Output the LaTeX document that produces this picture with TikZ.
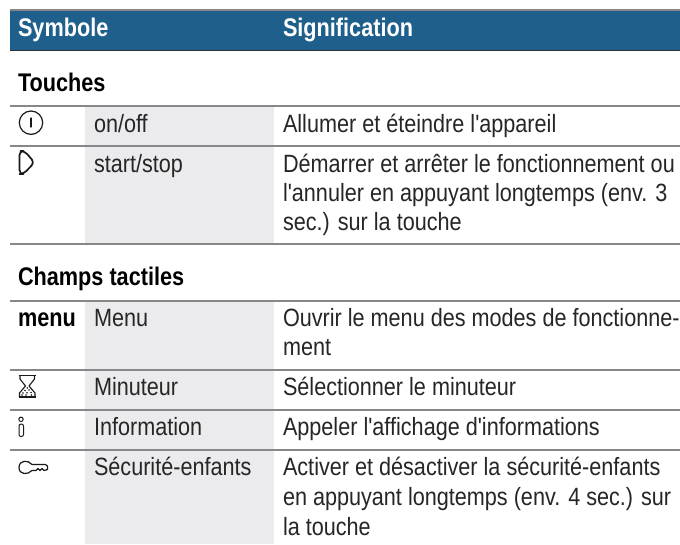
\documentclass[tikz,border=0pt]{standalone}
\usepackage{fontspec}
\setmainfont{Liberation Sans}
\newfontfamily\narrowf[FakeStretch=0.865]{Liberation Sans}
\newfontfamily\narrowb[FakeStretch=0.85,BoldFont={Liberation Sans Bold}]{Liberation Sans}
\definecolor{hblue}{RGB}{31,95,140}
\definecolor{rule}{RGB}{135,135,138}
\definecolor{cellg}{RGB}{235,235,237}
\tikzset{x=1pt,y=-1pt,
 txt/.style={anchor=base west,inner sep=0pt,outer sep=0pt,font=\narrowf\fontsize{25}{28}\selectfont,text=black!85},
 bold/.style={anchor=base west,inner sep=0pt,outer sep=0pt,font=\narrowb\bfseries\fontsize{25.5}{28}\selectfont,text=black},
 hd/.style={bold,text=white},
 sep/.style={draw=rule,line width=2pt},
 sym/.style={draw=black!90,line width=1.2pt,line join=round,line cap=round}}
\begin{document}
\begin{tikzpicture}
\useasboundingbox (0,0) rectangle (680,544);
\fill[white] (0,0) rectangle (680,544);
% header
\fill[hblue] (10,10) rectangle (680,50);
\draw[rule,line width=1.2pt] (10,10) -- (680,10);
\draw[black!80,line width=0.8pt] (10,50) -- (680,50);
\node[hd] (h1) at (18,36) {Symbole};
\node[hd] (h2) at (283,36) {Signification};
% gray columns
\fill[cellg] (85,106) rectangle (274,244);
\fill[cellg] (85,300) rectangle (274,544);
% section titles
\node[bold] (s1) at (18,91.5) {Touches};
\node[bold] (s2) at (18,285) {Champs tactiles};
% rules
\foreach \yy in {105.8,145.7,244.3,300.5,370.3,409.8,449.8}
  \draw[sep] (10,\yy) -- (680,\yy);
% rows
\node[txt] (a1) at (94,132) {on/off};
\node[txt] (b1) at (283,132) {Allumer et éteindre l'appareil};
\node[txt] (a2) at (94,172) {start/stop};
\node[txt] (b2) at (283,172) {Démarrer et arrêter le fonctionnement ou};
\node[txt] (b2b) at (283,201) {l'annuler en appuyant longtemps (env. 3};
\node[txt] (b2c) at (283,230.5) {sec.) sur la touche};
\node[bold] (c0) at (18,326) {menu};
\node[txt] (c1) at (94,326) {Menu};
\node[txt] (d1) at (283,326) {Ouvrir le menu des modes de fonctionne-};
\node[txt] (d1b) at (283,355.5) {ment};
\node[txt] (c2) at (94,395.5) {Minuteur};
\node[txt] (d2) at (283,395.5) {Sélectionner le minuteur};
\node[txt] (c3) at (94,435.5) {Information};
\node[txt] (d3) at (283,435.5) {Appeler l'affichage d'informations};
\node[txt] (c4) at (94,475) {Sécurité-enfants};
\node[txt] (d4) at (283,475) {Activer et désactiver la sécurité-enfants};
\node[txt] (d4b) at (283,505) {en appuyant longtemps (env. 4 sec.) sur};
\node[txt] (d4c) at (283,535) {la touche};
% symbols
\draw[sym] (31,122.7) circle (11.7);
\draw[sym] (31,118) -- (31,127);
\draw[sym,line width=1.7pt,rounded corners=4pt] (19.5,151) -- (19.5,174) -- (23.5,174) -- (34.5,162.5) -- (24.5,151) -- cycle;
% hourglass
\draw[sym,line width=1.7pt,line cap=butt] (18.5,375.5) -- (36,375.5) (18.5,396.7) -- (36,396.7);
\draw[sym,line width=1.1pt] (20,376) -- (20,379) -- (25.5,386) -- (19.5,393) -- (19.5,396.5) (34.5,376) -- (34.5,379) -- (29,386) -- (35,393) -- (35,396.5);
\foreach \p in {(27.2,388),(25,390.5),(29,390),(31,392.5),(23,393),(27,392.8),(31.5,395),(22,395),(26,395)}
  \fill[black!90] \p circle (0.85);
% info
\draw[sym,line width=1pt] (21,419.3) circle (2.2);
\draw[sym,line width=1pt,rounded corners=2pt] (19,424) rectangle (23.5,436.5);
% key
\draw[sym,line width=1.2pt] (32,464.5) .. controls (28,459.5) and (19,460) .. (19,467.5) .. controls (19,475) and (28,475) .. (32,470.5) -- (36,470.5) -- (38,468.5) -- (40,470.5) -- (42,468.5) -- (44,470.5) -- (47.5,469.5) -- (47.5,466) -- (45.5,464.5) -- cycle;
\end{tikzpicture}
\end{document}
